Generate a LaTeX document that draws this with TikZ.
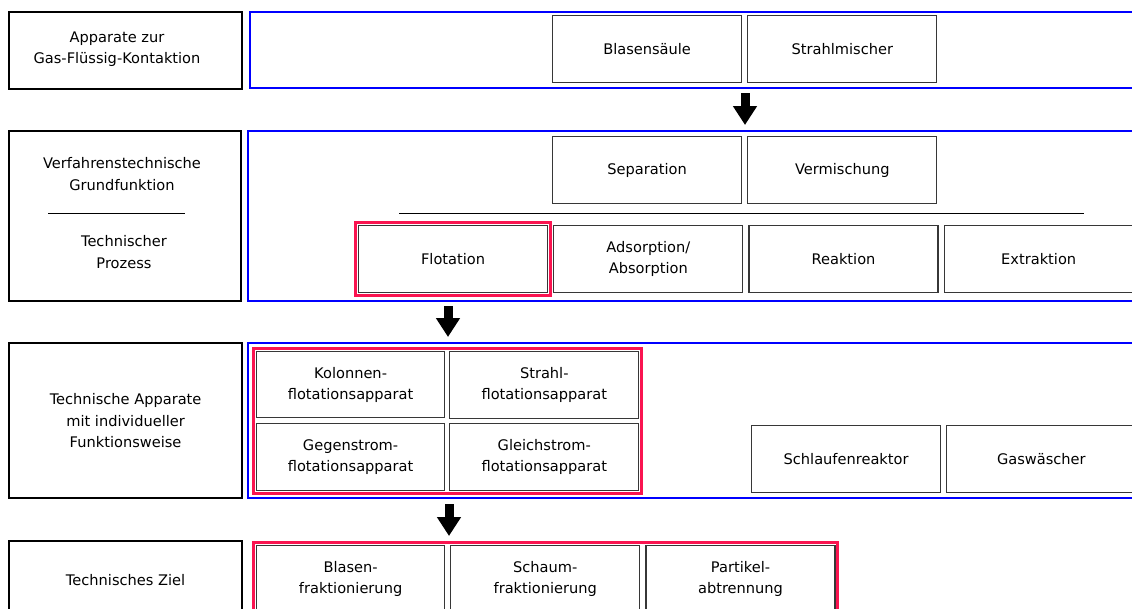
\documentclass[tikz,border=0pt]{standalone}
\usepackage{fontspec}
\setmainfont{DejaVu Sans}
\usepackage{tikz}
\usetikzlibrary{arrows.meta,positioning,fit}
\definecolor{laneblue}{RGB}{0,0,255}
\definecolor{markred}{RGB}{250,20,80}
\definecolor{boxgray}{RGB}{55,55,55}

\begin{document}
\begin{tikzpicture}[
    x=1pt,y=-1pt,
    font=\fontsize{14.6}{21.2}\selectfont,
    node distance=5pt and 5pt,
    level/.style={draw=black,line width=2.2pt,align=center,anchor=north west,
      inner sep=0pt,minimum width=233pt},
    lane/.style={draw=laneblue,line width=2pt,anchor=north west,inner sep=0pt,
      minimum width=900pt},
    unit/.style={draw=boxgray,line width=1.2pt,align=center,inner sep=0pt,
      minimum width=189pt,minimum height=67pt},
    redframe/.style={draw=markred,line width=3pt,inner sep=2.2pt},
    txt/.style={align=center},
    divider/.style={draw=black,line width=1pt},
    bigarrow/.style={-{Triangle[width=23pt,length=19pt]},line width=9pt}
  ]
    \useasboundingbox (0,0) rectangle (1132,608);
    \clip (0,0) rectangle (1132,608);
    \node[level,minimum height=77pt] (levA) at (8,11) {};
    \node[level,minimum width=232pt,minimum height=170pt] (levB) at (8,130) {};
    \node[level,minimum height=155pt] (levC) at (8,342) {Technische Apparate\\mit individueller\\Funktionsweise};
    \node[level,minimum height=77pt] (levD) at (8,540) {Technisches Ziel};
    \node[txt] (kontakt) at (117,49) {Apparate zur\\Gas-Flüssig-Kontaktion};
    \node[txt] (grundfkt) at (122,174) {Verfahrenstechnische\\Grundfunktion};
    \node[txt] (prozess) at (124,252) {Technischer\\Prozess};
    \draw[divider] (48,213) -- (185,213);

    \node[lane,minimum height=76pt] (laneA) at (249,11) {};
    \node[lane,minimum height=170pt] (laneB) at (247,130) {};
    \node[lane,minimum height=155pt] (laneC) at (247,342) {};

    \node[unit,anchor=north west] (blasen) at (552,15) {Blasensäule};
    \node[unit,right=of blasen] (mischer) {Strahlmischer};

    \node[unit,anchor=north west] (separ) at (552,136) {Separation};
    \node[unit,right=of separ] (vermisch) {Vermischung};
    \draw[divider] (399,213) -- (1084,213);
    \node[unit,anchor=north west] (flot) at (358,225) {Flotation};
    \node[unit,right=of flot] (adsorp) {Adsorption/\\Absorption};
    \node[unit,right=of adsorp] (reakt) {Reaktion};
    \node[unit,right=of reakt] (extrakt) {Extraktion};
    \node[redframe,fit=(flot)] (flotgrp) {};

    \node[unit,anchor=north west,minimum width=188pt,minimum height=66pt] (kolon) at (256,351) {Kolonnen-\\flotationsapparat};
    \node[unit,right=4pt of kolon] (strahlflot) {Strahl-\\flotationsapparat};
    \node[unit,below=of kolon,minimum width=188pt] (gegen) {Gegenstrom-\\flotationsapparat};
    \node[unit,right=4pt of gegen] (gleich) {Gleichstrom-\\flotationsapparat};
    \node[redframe,fit=(kolon)(gleich)] (appgrp) {};
    \node[unit,anchor=north west] (schlauf) at (751,425) {Schlaufenreaktor};
    \node[unit,right=of schlauf] (gaswasch) {Gaswäscher};

    \node[unit,anchor=north west,minimum width=188pt] (blasfrak) at (256,545) {Blasen-\\fraktionierung};
    \node[unit,right=of blasfrak] (schaum) {Schaum-\\fraktionierung};
    \node[unit,right=of schaum] (partikel) {Partikel-\\abtrennung};
    \node[redframe,fit=(blasfrak)(partikel)] (zielgrp) {};

    \coordinate (arrAs) at (745,93);
    \coordinate (arrAe) at (745,125);
    \coordinate (arrBs) at (448,306);
    \coordinate (arrBe) at (448,337);
    \coordinate (arrCs) at (449,504);
    \coordinate (arrCe) at (449,536);
    \draw[bigarrow] (arrAs) -- (arrAe);
    \draw[bigarrow] (arrBs) -- (arrBe);
    \draw[bigarrow] (arrCs) -- (arrCe);
  \end{tikzpicture}
\end{document}
